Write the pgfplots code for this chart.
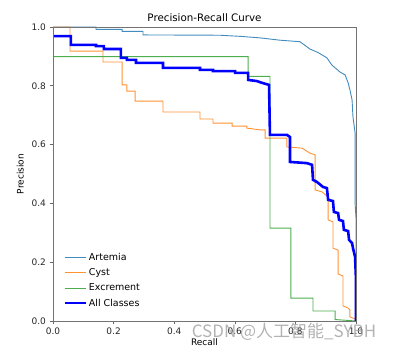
\documentclass[border=0pt]{standalone}
\usepackage{pgfplots}
\pgfplotsset{compat=1.18}
\usepackage{fontspec}
\setmainfont{DejaVu Sans}
\newfontfamily\cjk{Noto Sans CJK SC}
\definecolor{c1}{HTML}{1F77B4}
\definecolor{c2}{HTML}{FF7F0E}
\definecolor{c3}{HTML}{2CA02C}
\begin{document}
\begin{tikzpicture}[x=1pt,y=1pt]
\path[use as bounding box] (0,0) rectangle (404,352);
\begin{axis}[
  at={(53pt,31pt)}, anchor=south west,
  scale only axis, width=303pt, height=294pt,
  xmin=0, xmax=1, ymin=0, ymax=1,
  xtick={0,0.2,0.4,0.6,0.8,1.0},
  ytick={0,0.2,0.4,0.6,0.8,1.0},
  /pgf/number format/assume math mode=true,
  /pgf/number format/.cd, fixed, fixed zerofill, precision=1, /pgfplots/.cd,
  tick label style={font=\fontsize{9}{10}\selectfont, text=black!85},
  tick align=outside, tick pos=lower,
  major tick length=3.5pt,
  every tick/.style={black!60, line width=0.6pt},
  axis line style={black!55, line width=0.9pt},
  axis on top=true,
  title={Precision-Recall Curve},
  title style={font=\fontsize{10.3}{12}\selectfont, yshift=-4pt},
  xlabel={Recall}, ylabel={Precision},
  label style={font=\fontsize{9}{10}\selectfont},
  xlabel style={yshift=3pt},
  ylabel style={yshift=1pt},
  legend cell align=left,
  legend style={draw=none, fill=none, at={(0.03,0.035)}, anchor=south west,
    font=\fontsize{9.5}{10}\selectfont, row sep=2.6pt, inner sep=1pt},
  legend image code/.code={\draw[#1] (0pt,0pt) -- (21pt,0pt);},
]
\addplot[c1!85, line width=0.9pt] coordinates {
(0,1.0) (0.142,1.0) (0.142,0.992) (0.228,0.992) (0.228,0.985) (0.297,0.985)
(0.297,0.973) (0.55,0.972) (0.62,0.968) (0.683,0.963) (0.75,0.955)
(0.815,0.950) (0.848,0.925) (0.875,0.913) (0.904,0.895) (0.92,0.871)
(0.947,0.847) (0.964,0.837) (0.974,0.81) (0.980,0.786) (0.987,0.752)
(0.990,0.694) (0.997,0.64) (0.997,0.40) (1.0,0.35) (1.0,0.0)};
\addlegendentry{Artemia}
\addplot[c2!85, line width=0.9pt] coordinates {
(0,1.0) (0.056,1.0) (0.056,0.918) (0.165,0.918) (0.165,0.881) (0.228,0.881)
(0.228,0.803) (0.244,0.803) (0.244,0.782) (0.271,0.782) (0.271,0.748)
(0.363,0.748) (0.363,0.711) (0.485,0.711) (0.485,0.687) (0.528,0.687)
(0.528,0.673) (0.591,0.673) (0.591,0.663) (0.640,0.663) (0.640,0.656)
(0.683,0.650) (0.700,0.650) (0.700,0.622) (0.772,0.622) (0.772,0.592)
(0.822,0.588) (0.848,0.571) (0.865,0.565) (0.865,0.446) (0.888,0.439)
(0.908,0.422) (0.908,0.344) (0.924,0.337) (0.924,0.248) (0.941,0.241)
(0.941,0.160) (0.957,0.153) (0.957,0.051) (0.974,0.044) (0.980,0.037)
(0.980,0.014) (0.997,0.007) (1.0,0.0)};
\addlegendentry{Cyst}
\addplot[c3!85, line width=0.9pt] coordinates {
(0,0.899) (0.644,0.899) (0.644,0.832) (0.716,0.832) (0.716,0.316)
(0.785,0.316) (0.785,0.078) (0.858,0.078) (0.858,0.034) (0.931,0.034)
(0.931,0.005) (1.0,0.0)};
\addlegendentry{Excrement}
\addplot[blue, line width=2.6pt] coordinates {
(0,0.969) (0.059,0.969) (0.059,0.939) (0.142,0.939) (0.142,0.935) (0.168,0.935)
(0.168,0.925) (0.224,0.925) (0.224,0.895) (0.244,0.895) (0.244,0.888)
(0.274,0.888) (0.274,0.878) (0.363,0.878) (0.363,0.861) (0.485,0.861)
(0.485,0.854) (0.528,0.854) (0.528,0.850) (0.601,0.850) (0.601,0.844)
(0.644,0.844) (0.644,0.820) (0.673,0.816) (0.690,0.810) (0.713,0.803)
(0.716,0.633) (0.772,0.633) (0.782,0.626) (0.782,0.541) (0.838,0.537)
(0.855,0.531) (0.858,0.480) (0.871,0.473) (0.891,0.456) (0.904,0.452)
(0.908,0.412) (0.924,0.408) (0.927,0.371) (0.941,0.367) (0.944,0.344)
(0.957,0.340) (0.960,0.310) (0.974,0.306) (0.977,0.276) (0.987,0.265)
(0.990,0.248) (0.997,0.218) (1.0,0.139) (1.0,0.0)};
\addlegendentry{All Classes}
\end{axis}
\node[anchor=center, text=black!40, opacity=0.75, font=\cjk\fontsize{17}{20}\selectfont] at (284,20) {CSDN @人工智能\_SYBH};
\end{tikzpicture}
\end{document}
